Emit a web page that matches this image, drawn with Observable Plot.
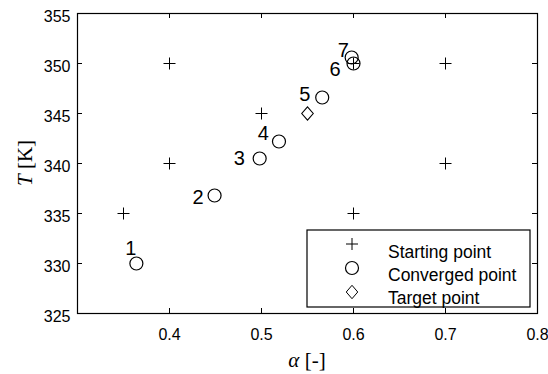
<!DOCTYPE html>
<html><head><meta charset="utf-8">
<script src="https://cdn.jsdelivr.net/npm/d3@7"></script>
<script src="https://cdn.jsdelivr.net/npm/@observablehq/plot@0.6"></script>
<style>body{margin:0;background:#fff}</style>
</head><body><div id="chart"></div>
<script>
// ---- data ----
const startAlpha = [0.35, 0.4, 0.4, 0.5, 0.6, 0.6, 0.7, 0.7];
const startT     = [335, 350, 340, 345, 350, 335, 350, 340];
const convAlpha  = [0.364, 0.449, 0.498, 0.519, 0.566, 0.600, 0.598];
const convT      = [330.0, 336.8, 340.5, 342.2, 346.6, 350.0, 350.6];
const convLabel  = ["1", "2", "3", "4", "5", "6", "7"];
const labelAlpha = [0.358, 0.431, 0.476, 0.502, 0.547, 0.580, 0.589];
const labelT     = [331.5, 336.6, 340.5, 343.0, 346.9, 349.4, 351.3];
const targetAlpha = [0.55];
const targetT     = [345];
const xTicks = [0.4, 0.5, 0.6, 0.7, 0.8];
const yTicks = [325, 330, 335, 340, 345, 350, 355];
const legendItems = ["Starting point", "Converged point", "Target point"];

// ---- symbols ----
const plusSym = {draw(ctx, size) {
  const r = Math.sqrt(size / Math.PI);
  ctx.moveTo(-r, 0); ctx.lineTo(r, 0);
  ctx.moveTo(0, -r); ctx.lineTo(0, r);
}};
const diamondSym = {draw(ctx, size) {
  const r = Math.sqrt(size / Math.PI), w = r * 0.86;
  ctx.moveTo(0, -r); ctx.lineTo(w, 0); ctx.lineTo(0, r); ctx.lineTo(-w, 0); ctx.closePath();
}};

const W = 548, H = 374;
const mL = 77, mR = 11, mT = 13, mB = 61;
const fw = W - mL - mR, fh = H - mT - mB;

const svg = Plot.plot({
  width: W, height: H,
  marginLeft: mL, marginRight: mR, marginTop: mT, marginBottom: mB,
  style: {fontFamily: "'Liberation Sans', Arial, sans-serif", color: "black", background: "white"},
  x: {domain: [0.3, 0.8]},
  y: {domain: [325, 355]},
  marks: [
    Plot.ruleX(xTicks, {stroke: "black", insetTop: fh - 5}),
    Plot.ruleX(xTicks, {stroke: "black", insetBottom: fh - 5}),
    Plot.ruleY(yTicks, {stroke: "black", insetRight: fw - 5}),
    Plot.ruleY(yTicks, {stroke: "black", insetLeft: fw - 5}),
    Plot.frame({stroke: "black", strokeWidth: 1.2}),
    Plot.axisX(xTicks, {tickSize: 0, tickPadding: 15, fontSize: 16, tickFormat: d => d.toFixed(1), label: null}),
    Plot.axisY(yTicks, {tickSize: 0, tickPadding: 7, fontSize: 16, dy: 3, label: null}),
    Plot.dot(startAlpha, {x: d => d, y: (d, i) => startT[i], symbol: plusSym, r: 6, stroke: "black", fill: "none", strokeWidth: 1}),
    Plot.dot(convAlpha, {x: d => d, y: (d, i) => convT[i], symbol: "circle", r: 6.5, stroke: "black", fill: "none", strokeWidth: 1.2}),
    Plot.dot(targetAlpha, {x: d => d, y: (d, i) => targetT[i], symbol: diamondSym, r: 6.7, stroke: "black", fill: "none", strokeWidth: 1.1}),
    Plot.text(convLabel, {x: (d, i) => labelAlpha[i], y: (d, i) => labelT[i], text: d => d, fontSize: 20, fill: "black"})
  ]
});
document.getElementById("chart").appendChild(svg);

const s = d3.select(svg);
// axis labels with italic symbols
const xl = s.append("text").attr("x", mL + fw / 2).attr("y", 367).attr("text-anchor", "middle")
  .attr("font-family", "'Liberation Serif', 'Times New Roman', serif").attr("font-size", 21).attr("fill", "black");
xl.append("tspan").attr("font-style", "italic").text("α");
xl.append("tspan").text(" [-]");
const yl = s.append("text").attr("transform", `translate(32,${mT + fh / 2}) rotate(-90)`).attr("text-anchor", "middle")
  .attr("font-family", "'Liberation Serif', 'Times New Roman', serif").attr("font-size", 21).attr("fill", "black");
yl.append("tspan").attr("font-style", "italic").text("T");
yl.append("tspan").text(" [K]");

// legend
const lg = s.append("g");
lg.append("rect").attr("x", 307).attr("y", 230).attr("width", 223).attr("height", 77)
  .attr("fill", "white").attr("stroke", "black").attr("stroke-width", 1.2);
const syms = [plusSym, d3.symbolCircle, diamondSym];
const rs = [6, 6.5, 6.7];
legendItems.forEach((t, i) => {
  const cy = 244 + i * 24;
  lg.append("path").attr("transform", `translate(352,${cy})`)
    .attr("d", d3.symbol(syms[i], rs[i] * rs[i] * Math.PI)())
    .attr("fill", "none").attr("stroke", "black").attr("stroke-width", i === 1 ? 1.2 : 1);
  lg.append("text").attr("x", 388).attr("y", 258 + i * 23).attr("font-size", 17.5)
    .attr("text-anchor", "start")
    .attr("font-family", "'Liberation Sans', Arial, sans-serif").attr("fill", "black").text(t);
});
</script>
</body></html>
